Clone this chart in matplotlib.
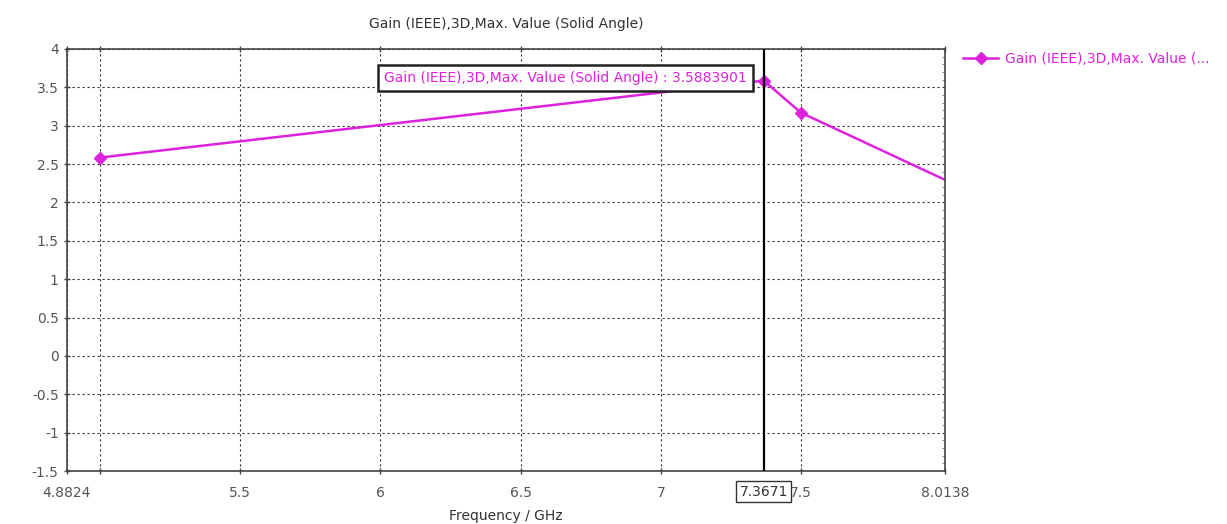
import numpy as np
import matplotlib.pyplot as plt
from matplotlib.ticker import MultipleLocator

# farfield gain samples (GHz, dBi)
freq = [5.0, 7.3671, 7.5, 8.0138]
gain = [2.585, 3.5883901, 3.17, 2.295]

x_ticks = [4.8824, 5.0, 5.5, 6.0, 6.5, 7.0, 7.5, 8.0138]
x_labels = ["4.8824", "", "5.5", "6", "6.5", "7", "7.5", "8.0138"]
y_ticks = [4, 3.5, 3, 2.5, 2, 1.5, 1, 0.5, 0, -0.5, -1, -1.5]
y_labels = ["4", "3.5", "3", "2.5", "2", "1.5", "1", "0.5", "0", "-0.5", "-1", "-1.5"]

cursor_f = 7.3671
cursor_val = 3.5883901
series = "Gain (IEEE),3D,Max. Value (Solid Angle)"

magenta = "#dd22dd"
gray = "#555555"
fs = 10
plt.rcParams["font.family"] = "DejaVu Sans"

fig = plt.figure(figsize=(12.27, 5.24), dpi=100)
ax = fig.add_axes([0.0546, 0.101, 0.7156, 0.8055])

ax.plot(freq, gain, color=magenta, lw=1.8, marker="D", ms=6,
        markevery=[0, 1, 2], label=series[:-13] + "(...")

ax.set_xlim(4.8824, 8.0138)
ax.set_ylim(-1.5, 4)
ax.set_xticks(x_ticks)
ax.set_xticklabels(x_labels)
ax.set_yticks(y_ticks)
ax.set_yticklabels(y_labels)
ax.yaxis.set_minor_locator(MultipleLocator(0.1))
ax.tick_params(which="major", direction="inout", length=5, width=1,
               color="#444444", labelcolor=gray, labelsize=fs, top=True)
ax.tick_params(axis="x", pad=8)
ax.tick_params(which="minor", direction="in", length=2, width=0.6,
               color="#777777", left=False, right=True)
ax.grid(True, which="major", color="#333333", ls=(0, (2, 2.5)), lw=0.8)

for s in ax.spines.values():
    s.set_color("#444444")
    s.set_linewidth(1.2)

ax.set_title(series, fontsize=fs, color="#333333", pad=15)
ax.set_xlabel("Frequency / GHz", fontsize=fs, color="#333333", labelpad=7)

# cursor line with readout
ax.axvline(cursor_f, color="black", lw=1.6, zorder=3)
ax.annotate(f"{series} : {cursor_val:.7f}", xy=(cursor_f, cursor_val),
            xytext=(-12, 2), textcoords="offset points", ha="right", va="center",
            fontsize=fs, color=magenta,
            bbox=dict(boxstyle="square,pad=0.45", fc="white", ec="#222222", lw=1.8),
            zorder=5)
ax.annotate(f"{cursor_f:.4f}", xy=(cursor_f, -1.5), xytext=(0, -15),
            textcoords="offset points", ha="center", va="center",
            fontsize=fs, color="#333333", annotation_clip=False,
            bbox=dict(boxstyle="square,pad=0.25", fc="white", ec="#333333", lw=1),
            zorder=6)

fig.legend(loc="upper left", bbox_to_anchor=(0.775, 0.925), frameon=False,
           fontsize=fs, labelcolor=magenta, handlelength=2.5, handletextpad=0.5)

fig.savefig("out.png", dpi=100)
